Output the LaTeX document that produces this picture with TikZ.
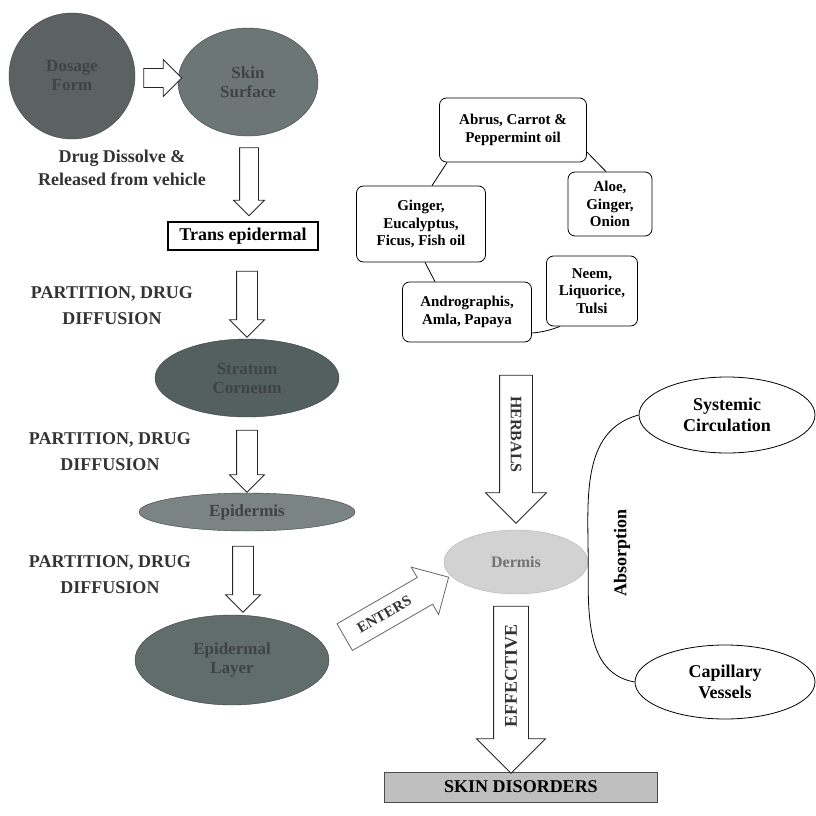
\documentclass[tikz,border=0pt]{standalone}
\usepackage{fontspec}
\setmainfont{Liberation Serif}
\usepackage{xcolor}
\usepackage{tikz}
\usetikzlibrary{shapes,arrows,positioning,calc}

\definecolor{blobA}{HTML}{5B6261}
\definecolor{blobB}{HTML}{6C7675}
\definecolor{blobC}{HTML}{53605D}
\definecolor{blobD}{HTML}{7A8482}
\definecolor{blobE}{HTML}{616D6A}
\definecolor{blobtext}{HTML}{3E4442}

\begin{document}
\begin{tikzpicture}[x=1pt, y=-1pt,
        blob/.style={ellipse, draw=black!75, fill=#1, text=blobtext, font=\bfseries\fontsize{17}{19}\selectfont, align=center, inner sep=0pt},
        herb/.style={rectangle, draw, thick, rounded corners=7pt, font=\bfseries\fontsize{15}{17.5}\selectfont, align=center, inner sep=0pt},
        site/.style={ellipse, draw, thick, font=\bfseries\fontsize{18}{21}\selectfont, align=center, inner sep=0pt},
        hollow/.style={single arrow, draw=black!85, thick, fill=white, single arrow head extend=#1, single arrow tip angle=90, inner xsep=0pt},
        note/.style={font=\bfseries\fontsize{18}{26}\selectfont, text=black!80, align=center},
        inarrow/.style={font=\bfseries\fontsize{16}{18}\selectfont, text=black!80}
    ]
        \useasboundingbox (0,0) rectangle (815,816);

        % Skin route
        \node[blob=blobA, circle, minimum size=126pt] (dosage) at (72,76) {Dosage\\Form};
        \node[blob=blobB, minimum width=140pt, minimum height=108pt] (skin) at (248,82) {Skin\\Surface};
        \node[note, font=\bfseries\fontsize{18}{23}\selectfont] (dissolve) at (122,168) {Drug Dissolve \&\\Released from vehicle};
        \node[draw, very thick, minimum width=150pt, minimum height=28pt, inner sep=0pt, font=\bfseries\fontsize{18}{20}\selectfont] (trans) at (243,236) {Trans epidermal};
        \node[blob=blobC, minimum width=184pt, minimum height=78pt] (stratum) at (247,378) {Stratum\\Corneum};
        \node[blob=blobD, minimum width=216pt, minimum height=38pt] (epidermis) at (247,512) {Epidermis};
        \node[blob=blobE, minimum width=194pt, minimum height=90pt] (dermal) at (232,660) {Epidermal\\Layer};

        \node[note] (partA) at (112,306) {PARTITION, DRUG\\DIFFUSION};
        \node[note] (partB) at (110,452) {PARTITION, DRUG\\DIFFUSION};
        \node[note] (partC) at (110,575) {PARTITION, DRUG\\DIFFUSION};

        % Herbals
        \node[herb, minimum width=147pt, minimum height=64pt] (abrus) at (513,130) {Abrus, Carrot \&\\Peppermint oil};
        \node[herb, minimum width=84pt, minimum height=64pt] (aloe) at (610,204) {Aloe,\\Ginger,\\Onion};
        \node[herb, minimum width=129pt, minimum height=76pt] (ginger) at (421,224) {Ginger,\\Eucalyptus,\\Ficus, Fish oil};
        \node[herb, minimum width=91pt, minimum height=70pt] (neem) at (592,291) {Neem,\\Liquorice,\\Tulsi};
        \node[herb, minimum width=129pt, minimum height=60pt] (andro) at (467,312) {Andrographis,\\Amla, Papaya};

        \node[ellipse, fill=gray!35, draw=gray!60, minimum width=144pt, minimum height=64pt, inner sep=0pt, font=\bfseries\fontsize{16}{18}\selectfont, text=black!55] (target) at (516,562) {Dermis};
        \node[site, minimum width=176pt, minimum height=76pt] (systemic) at (727,415) {Systemic\\Circulation};
        \node[site, minimum width=180pt, minimum height=74pt] (capillary) at (725,682) {Capillary\\Vessels};
        \node[draw=black!70, thick, fill=gray!50, minimum width=273pt, minimum height=30pt, inner sep=0pt, font=\bfseries\fontsize{18}{20}\selectfont] (disorders) at (521,787) {SKIN DISORDERS};

        % Arrows
        \node[hollow=9pt, inner ysep=9pt, minimum height=38pt] (toskin) at (158,78) {};
        \node[hollow=6pt, inner ysep=9pt, minimum height=68pt, rotate=-90] (totrans) at (249,177) {};
        \node[hollow=7pt, inner ysep=10pt, minimum height=66pt, rotate=-90] (tostratum) at (247,299) {};
        \node[hollow=7pt, inner ysep=10pt, minimum height=62pt, rotate=-90] (toepi) at (247,456) {};
        \node[hollow=7pt, inner ysep=10pt, minimum height=66pt, rotate=-90] (todermal) at (243,574) {};
        \node[hollow=12pt, inner ysep=15pt, minimum height=120pt, rotate=30, draw=black!60] (enters) at (390,611) {};
        \node[inarrow, rotate=30, font=\bfseries\fontsize{15}{17}\selectfont] (enterstext) at ($(enters.tail)!0.38!(enters.tip)$) {ENTERS};
        \node[hollow=14pt, inner ysep=16pt, minimum height=148pt, rotate=-90] (herbals) at (516,441) {};
        \node[inarrow, rotate=-90] (herbalstext) at ($(herbals.tail)!0.4!(herbals.tip)$) {HERBALS};
        \node[hollow=17pt, inner ysep=17pt, minimum height=167pt, rotate=90, shape border rotate=180] (effective) at (511,681) {};
        \node[inarrow, rotate=90, font=\bfseries\fontsize{18}{20}\selectfont] (effectivetext) at ($(effective.tail)!0.42!(effective.tip)$) {EFFECTIVE};

        % Links
        \draw[thick] ([xshift=8pt]abrus.south west) -- ([xshift=11pt]ginger.north);
        \draw[thick] ([yshift=-22pt]abrus.east) -- ([xshift=-4pt]aloe.north);
        \draw[thick] ([xshift=4pt]ginger.south) -- ([xshift=-32pt]andro.north);
        \draw[thick] ([yshift=-21pt]andro.east) to[out=5, in=200] ([xshift=14pt]neem.south west);
        \draw[thick] (systemic.west) to[out=195, in=90] (target.east) to[out=-90, in=170] (capillary.west);
        \node[rotate=90, font=\bfseries\fontsize{18}{20}\selectfont] (absorb) at (622,553) {Absorption};
    \end{tikzpicture}
\end{document}
